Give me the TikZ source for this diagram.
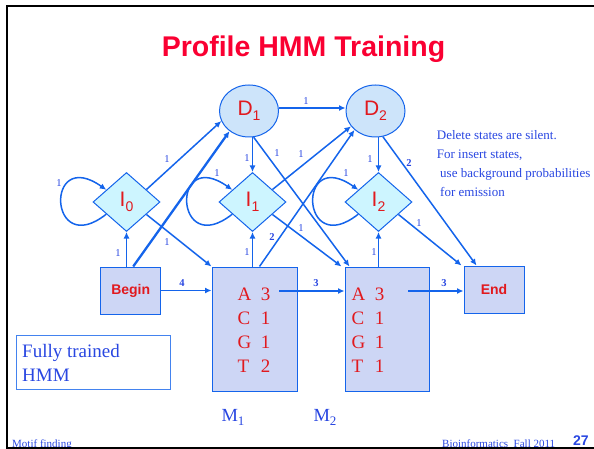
\documentclass[tikz,border=0pt]{standalone}
\usepackage{fontspec}
\setmainfont{Liberation Serif}
\newfontfamily\arial{Liberation Sans}
\usetikzlibrary{shapes.geometric,arrows.meta,calc}

\definecolor{linkblue}{RGB}{20,100,235}
\definecolor{txtblue}{RGB}{40,70,225}
\definecolor{titlered}{RGB}{250,0,50}
\definecolor{lblred}{RGB}{225,25,30}
\definecolor{delfill}{RGB}{205,228,250}
\definecolor{insfill}{RGB}{205,245,255}
\definecolor{boxfill}{RGB}{205,214,245}

% state label: letter with a lowered index
\newcommand{\statelbl}[2]{{\arial\fontsize{21}{21}\selectfont #1\raisebox{-4.5pt}{\fontsize{14}{14}\selectfont #2}}}
% match-state name under the boxes
\newcommand{\matchname}[1]{M\raisebox{-4pt}{\fontsize{13}{13}\selectfont #1}}

\tikzset{
  arr/.style={draw=linkblue, line width=1.5pt, -{Latex[length=6.5pt,width=6pt]}},
  selfloop/.style={arr},
  delstate/.style={ellipse, draw=linkblue, line width=1pt, fill=delfill,
    inner sep=0pt, minimum width=59pt, minimum height=52pt, text=lblred},
  insstate/.style={diamond, draw=linkblue, line width=1pt, fill=insfill,
    inner sep=0pt, minimum width=67pt, minimum height=59pt, text=lblred},
  statebox/.style={rectangle, draw=linkblue, line width=1pt, fill=boxfill, inner sep=0pt},
  lbl/.style={inner sep=0pt, text=txtblue, font=\fontsize{10.5}{10.5}\selectfont},
  blbl/.style={inner sep=0pt, text=txtblue, font=\bfseries\fontsize{10.5}{10.5}\selectfont},
  emit/.style={inner sep=0pt, anchor=base west, text=lblred, font=\fontsize{19}{24}\selectfont},
  note/.style={inner sep=0pt, anchor=base west, text=txtblue, font=\fontsize{13}{13}\selectfont},
}

\begin{document}
\begin{tikzpicture}[x=1pt,y=-1pt]
\useasboundingbox (0,0) rectangle (594,449);

% title
\node[inner sep=0pt, anchor=base, text=titlered, font=\arial\bfseries\fontsize{28.5}{28.5}\selectfont]
  (title) at (303.5,56.7) {Profile HMM Training};

% states
\node[delstate] (D1) at (249,111) {\statelbl{D}{1}};
\node[delstate] (D2) at (375.5,111) {\statelbl{D}{2}};
\node[insstate] (I0) at (126.5,202) {\statelbl{I}{0}};
\node[insstate] (I1) at (252.5,202) {\statelbl{I}{1}};
\node[insstate] (I2) at (378.5,202) {\statelbl{I}{2}};
\node[statebox, minimum width=60pt, minimum height=47pt, text=lblred,
  font=\arial\bfseries\fontsize{14}{14}\selectfont] (Begin) at (130.7,290.5) {Begin};
\node[statebox, minimum width=85pt, minimum height=124pt] (M1) at (254.5,329) {};
\node[statebox, minimum width=84pt, minimum height=124pt] (M2) at (387,329) {};
\node[statebox, minimum width=60pt, minimum height=47pt, text=lblred,
  font=\arial\bfseries\fontsize{14}{14}\selectfont] (End) at (494,289.5) {End};

% emission counts
\node[emit] (E1) at (237.5,300.5)
  {\begin{tabular}[t]{@{}l@{\hspace{9.5pt}}l@{}}A&3\\C&1\\G&1\\T&2\end{tabular}};
\node[emit] (E2) at (351.5,300.5)
  {\begin{tabular}[t]{@{}l@{\hspace{9.5pt}}l@{}}A&3\\C&1\\G&1\\T&1\end{tabular}};

\coordinate (m1out) at (279,291);
\coordinate (m2out) at (408,291);

% transitions
\draw[arr] (D1.east |- 0,108) -- (D2.west |- 0,108);
\draw[arr] (D1.south -| I1.north) -- (I1.north);
\draw[arr] (D1.-80) -- ([xshift=5pt]M2.north west);
\draw[arr] (D2.south -| I2.north) -- (I2.north);
\draw[arr] (D2.-74) -- ([xshift=13pt]End.north west);

\draw[arr] (I0.32) -- (D1.200);
\draw[selfloop] (I0.211) .. controls +(-58,46) and +(-62,-44) .. (I0.149);
\draw[arr] (I0.-32) -- (M1.north west);
\draw[arr] (Begin.north -| I0.south) -- (I0.south);
\draw[arr, line width=2.3pt] ([xshift=2.5pt]Begin.north) -- (D1.226);
\draw[arr] (Begin.east) -- (M1.west |- Begin.east);

\draw[arr] (I1.32) -- (D2.212);
\draw[selfloop] (I1.211) .. controls +(-58,46) and +(-62,-44) .. (I1.149);
\draw[arr] (I1.-32) -- ([xshift=-3pt]M2.north west);
\draw[arr] (M1.north -| I1.south) -- (I1.south);
\draw[arr] ([xshift=5pt]M1.north) -- (D2.222);
\draw[arr] (m1out) -- (M2.west |- m1out);

\draw[selfloop] (I2.211) .. controls +(-58,46) and +(-62,-44) .. (I2.149);
\draw[arr] (I2.-32) -- ([xshift=-2pt]End.north west);
\draw[arr] (M2.north -| I2.south) -- (I2.south);
\draw[arr] (m2out) -- (End.west |- m2out);

% transition counts
\node[lbl] (c-d1d2) at (306,101) {1};
\node[lbl] (c-d1i1) at (247,158) {1};
\node[lbl] (c-d1m2) at (277,153) {1};
\node[lbl] (c-i1d2) at (301,154) {1};
\node[lbl] (c-d2i2) at (370,159) {1};
\node[blbl] (c-d2end) at (409,163) {2};
\node[lbl] (c-i0d1) at (167,159) {1};
\node[lbl] (c-i0i0) at (59,183) {1};
\node[lbl] (c-i0m1) at (167,242) {1};
\node[lbl] (c-bi0) at (118,253) {1};
\node[blbl] (c-bm1) at (182,283) {4};
\node[lbl] (c-i1i1) at (217,173) {1};
\node[lbl] (c-i1m2) at (301,228) {1};
\node[lbl] (c-m1i1) at (247,252) {1};
\node[blbl] (c-m1d2) at (272,237) {2};
\node[blbl] (c-m1m2) at (316,283) {3};
\node[lbl] (c-i2i2) at (346,173) {1};
\node[lbl] (c-i2end) at (419,223) {1};
\node[lbl] (c-m2i2) at (374,252) {1};
\node[blbl] (c-m2end) at (444,283) {3};

% match-state names
\node[inner sep=0pt, anchor=base west, text=txtblue, font=\fontsize{18.5}{18.5}\selectfont]
  (n1) at (221.3,421.5) {\matchname{1}};
\node[inner sep=0pt, anchor=base west, text=txtblue, font=\fontsize{18.5}{18.5}\selectfont]
  (n2) at (313.3,421.5) {\matchname{2}};

% side notes
\node[note] (s1) at (436.7,140) {Delete states are silent.};
\node[note] (s2) at (436.7,158.7) {For insert states,};
\node[note] (s3) at (440,177.4) {use background probabilities};
\node[note] (s4) at (440,196.1) {for emission};

% caption box
\draw[draw=linkblue!80, line width=0.9pt] (16,335) rectangle (170,389);
\node[inner sep=0pt, anchor=base west, text=txtblue, font=\fontsize{19}{19}\selectfont]
  (cap1) at (22,357) {Fully trained};
\node[inner sep=0pt, anchor=base west, text=txtblue, font=\fontsize{19}{19}\selectfont]
  (cap2) at (22,381) {HMM};

% footer
\node[inner sep=0pt, anchor=base west, text=txtblue, font=\fontsize{11}{11}\selectfont]
  (f1) at (12,447) {Motif finding};
\node[inner sep=0pt, anchor=base west, text=txtblue, font=\fontsize{11}{11}\selectfont]
  (f2) at (442,447) {Bioinformatics\ \ Fall 2011};
\node[inner sep=0pt, anchor=base west, text=txtblue, font=\arial\bfseries\fontsize{14}{14}\selectfont]
  (pg) at (573,445) {27};

% slide frame
\draw[line width=2pt, line cap=rect] (594,6) -- (7,6) -- (7,447.5) -- (594,447.5);
\end{tikzpicture}
\end{document}
